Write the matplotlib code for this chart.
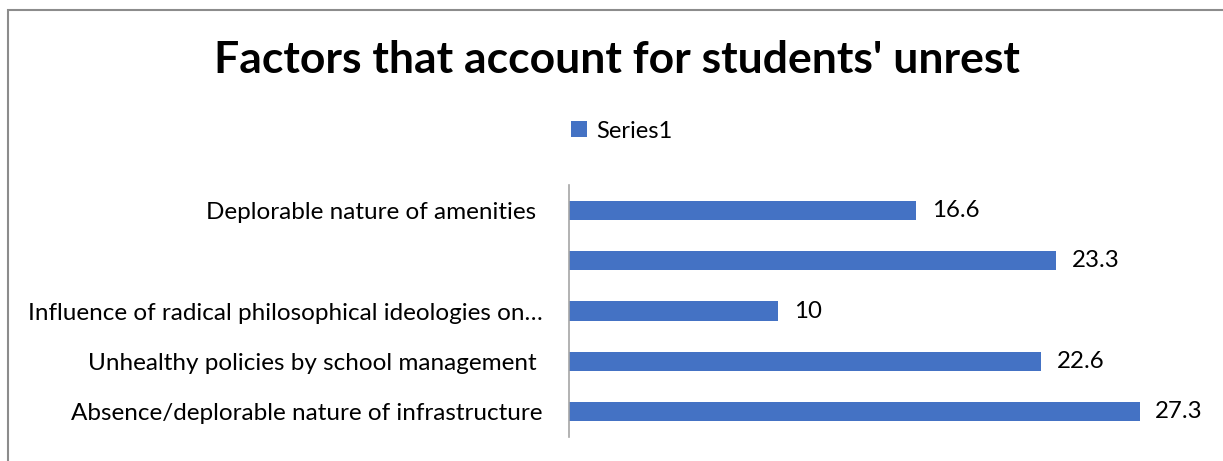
import matplotlib
matplotlib.use('Agg')
import matplotlib.pyplot as plt
from matplotlib.patches import Rectangle

# categories listed bottom to top, as drawn
categories = ['Absence/deplorable nature of infrastructure',
              'Unhealthy policies by school management ',
              'Influence of radical philosophical ideologies on\u2026',
              '',
              'Deplorable nature of amenities ']
values = [27.3, 22.6, 10, 23.3, 16.6]
value_labels = ['27.3', '22.6', '10', '23.3', '16.6']

bar_color = '#4472C4'
plt.rcParams['font.family'] = ['Lato', 'DejaVu Sans']

fig = plt.figure(figsize=(12.23, 4.61), dpi=100)
ax = fig.add_axes([569/1223, 1 - 437/461, (1196 - 569)/1223, (437 - 185)/461])

pos = range(len(categories))
bars = ax.barh(pos, values, height=0.38, color=bar_color, label='Series1')
for b, lab in zip(bars, value_labels):
    ax.text(b.get_width() + 0.75, b.get_y() + b.get_height()/2, lab,
            va='center', ha='left', fontsize=17.3)

ax.set_xlim(0, 30)
ax.set_ylim(-0.5, len(categories) - 0.5)
ax.set_yticks(list(pos))
ax.set_yticklabels(categories, fontsize=17.5)
ax.tick_params(axis='y', length=0, pad=19)
ax.set_xticks([])
for s in ['top', 'right', 'bottom']:
    ax.spines[s].set_visible(False)
ax.spines['left'].set_color('#a6a6a6')
ax.spines['left'].set_linewidth(1.2)

fig.text(617/1223, 1 - 60/461, "Factors that account for students' unrest",
         ha='center', va='center', fontsize=32, fontweight='bold')

fig.legend(handles=[bars], labels=['Series1'], loc='center',
           bbox_to_anchor=(622/1223, 1 - 131/461), frameon=False,
           fontsize=17, handlelength=0.65, handleheight=0.65, handletextpad=0.4)

# outer chart border (only top and left visible in the crop)
fig.patches.append(Rectangle((8/1223, -0.1), 1.2, 1 - 10/461 + 0.1,
                             transform=fig.transFigure, fill=False,
                             edgecolor='#8c8c8c', linewidth=1.5))

fig.savefig('out.png', dpi=100)
